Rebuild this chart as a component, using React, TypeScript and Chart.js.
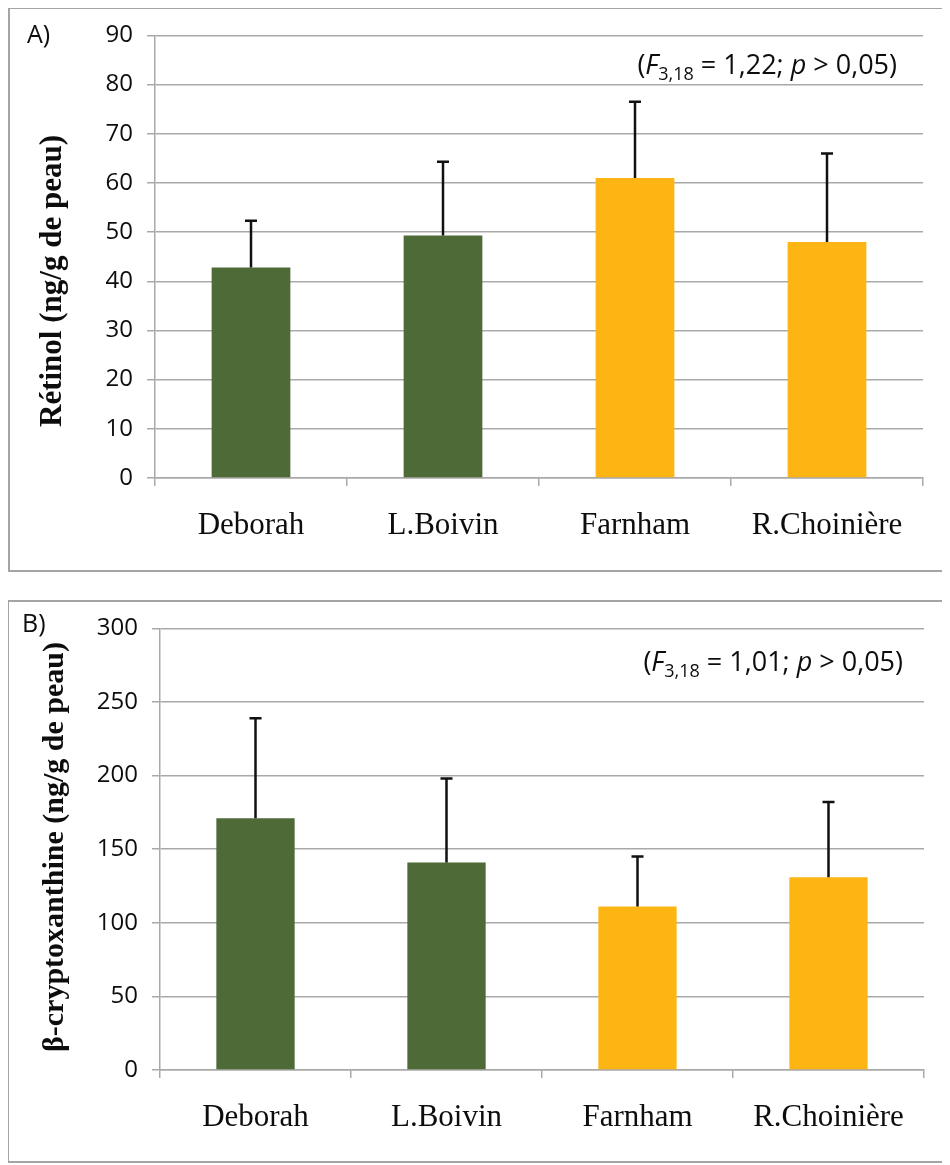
import React, { useEffect, useRef } from 'react';
import { Chart, registerables } from 'chart.js';

Chart.register(...registerables);

// ---------- Data ----------
const categories = ['Deborah', 'L.Boivin', 'Farnham', 'R.Choinière'];
const barColors = ['#4e6a37', '#4e6a37', '#fdb514', '#fdb514'];

const retinolMeans = [42.8, 49.3, 61.0, 48.0];
const retinolErrors = [9.5, 15.0, 15.5, 18.0];
const retinolMax = 90;
const retinolStep = 10;

const cryptoMeans = [171, 141, 111, 131];
const cryptoErrors = [68, 57, 34, 51];
const cryptoMax = 300;
const cryptoStep = 50;

type Seg = { t: string; it?: boolean; sub?: boolean };
const statA: Seg[] = [
  { t: '(' }, { t: 'F', it: true }, { t: '3,18', sub: true }, { t: ' = 1,22; ' }, { t: 'p', it: true }, { t: ' > 0,05)' },
];
const statB: Seg[] = [
  { t: '(' }, { t: 'F', it: true }, { t: '3,18', sub: true }, { t: ' = 1,01; ' }, { t: 'p', it: true }, { t: ' > 0,05)' },
];

const SANS = '"Open Sans", "Noto Sans", sans-serif';
const SERIF = '"Liberation Serif", "DejaVu Serif", serif';
const GRID = '#a9a9a9';

type PanelCfg = {
  label: string;
  yTitle: string;
  titleSize: number;
  means: number[];
  errors: number[];
  max: number;
  step: number;
  stat: Seg[];
  width: number;
  height: number;
  plotLeft: number;
  plotRight: number;
  plotTop: number;
  plotBottom: number;
  labelPos: [number, number];
  titlePos: [number, number];
  statRight: number;
  statY: number;
};

const errorBarPlugin = {
  id: 'errorBars',
  afterDatasetsDraw(chart: any, _args: any, opts: any) {
    const { ctx } = chart;
    const meta = chart.getDatasetMeta(0);
    const yScale = chart.scales.y;
    ctx.save();
    ctx.strokeStyle = '#111';
    ctx.lineWidth = 2.5;
    meta.data.forEach((el: any, i: number) => {
      const top = yScale.getPixelForValue(opts.means[i] + opts.errors[i]);
      ctx.beginPath();
      ctx.moveTo(el.x, el.y);
      ctx.lineTo(el.x, top);
      ctx.moveTo(el.x - 6, top);
      ctx.lineTo(el.x + 6, top);
      ctx.stroke();
    });
    ctx.restore();
  },
};

function drawRich(ctx: CanvasRenderingContext2D, segs: Seg[], right: number, y: number, size: number) {
  const fontFor = (s: Seg) => `${s.it ? 'italic ' : ''}${s.sub ? Math.round(size * 0.68) : size}px ${SANS}`;
  let total = 0;
  segs.forEach((s) => {
    ctx.font = fontFor(s);
    total += ctx.measureText(s.t).width;
  });
  let x = right - total;
  ctx.textBaseline = 'alphabetic';
  ctx.textAlign = 'left';
  segs.forEach((s) => {
    ctx.font = fontFor(s);
    ctx.fillText(s.t, x, s.sub ? y + size * 0.22 : y);
    x += ctx.measureText(s.t).width;
  });
}

const decorPlugin = {
  id: 'decor',
  beforeDraw(chart: any) {
    const { ctx, width, height } = chart;
    ctx.save();
    ctx.fillStyle = '#ffffff';
    ctx.fillRect(0, 0, width, height);
    ctx.restore();
  },
  afterDraw(chart: any, _args: any, o: any) {
    const { ctx, width, height } = chart;
    ctx.save();
    // frame
    ctx.strokeStyle = '#a4a4a4';
    ctx.lineWidth = 2;
    ctx.strokeRect(1, 1, width - 2, height - 2);
    ctx.fillStyle = '#0d0d0d';
    // panel label
    ctx.font = `25px ${SANS}`;
    ctx.textAlign = 'left';
    ctx.textBaseline = 'middle';
    ctx.fillText(o.label, o.labelPos[0], o.labelPos[1]);
    // y title
    ctx.save();
    ctx.translate(o.titlePos[0], o.titlePos[1]);
    ctx.rotate(-Math.PI / 2);
    ctx.font = `bold ${o.titleSize}px ${SERIF}`;
    ctx.textAlign = 'center';
    ctx.textBaseline = 'middle';
    ctx.fillText(o.yTitle, 0, 0);
    ctx.restore();
    // statistics
    drawRich(ctx, o.stat, o.statRight, o.statY, 27);
    ctx.restore();
  },
};

function Panel({ cfg, style }: { cfg: PanelCfg; style: React.CSSProperties }) {
  const ref = useRef<HTMLCanvasElement | null>(null);
  useEffect(() => {
    if (!ref.current) return;
    const chart = new Chart(ref.current, {
      type: 'bar',
      data: {
        labels: categories,
        datasets: [
          {
            data: cfg.means,
            backgroundColor: barColors,
            borderWidth: 0,
            barPercentage: 0.41,
            categoryPercentage: 1,
          },
        ],
      },
      options: {
        responsive: false,
        animation: false,
        devicePixelRatio: 1,
        layout: {
          padding: { top: cfg.plotTop, right: cfg.width - cfg.plotRight, bottom: 0, left: 0 },
        },
        plugins: {
          legend: { display: false },
          tooltip: { enabled: false },
          title: { display: false },
          errorBars: { means: cfg.means, errors: cfg.errors },
          decor: {
            label: cfg.label,
            yTitle: cfg.yTitle,
            titleSize: cfg.titleSize,
            stat: cfg.stat,
            labelPos: cfg.labelPos,
            titlePos: cfg.titlePos,
            statRight: cfg.statRight,
            statY: cfg.statY,
          },
        } as any,
        scales: {
          x: {
            afterFit: (s: any) => {
              s.height = cfg.height - cfg.plotBottom;
            },
            grid: {
              offset: true,
              drawOnChartArea: false,
              drawTicks: true,
              tickLength: 8,
              color: GRID,
              lineWidth: 1.5,
            },
            border: { display: true, color: GRID, width: 1.5 },
            ticks: {
              font: { family: SERIF, size: 31 },
              color: '#0d0d0d',
              padding: 21,
              maxRotation: 0,
            },
          },
          y: {
            min: 0,
            max: cfg.max,
            afterFit: (s: any) => {
              s.width = cfg.plotLeft;
            },
            ticks: {
              stepSize: cfg.step,
              font: { family: SANS, size: 24 },
              color: '#0d0d0d',
              padding: 14,
            },
            grid: {
              color: GRID,
              lineWidth: 1.5,
              drawTicks: true,
              tickLength: 8,
            },
            border: { display: true, color: GRID, width: 1.5 },
          },
        },
      },
      plugins: [errorBarPlugin, decorPlugin],
    });
    return () => chart.destroy();
  }, [cfg]);
  return (
    <canvas
      ref={ref}
      width={cfg.width}
      height={cfg.height}
      style={{ position: 'absolute', display: 'block', width: cfg.width, height: cfg.height, ...style }}
    />
  );
}

const panelA: PanelCfg = {
  label: 'A)',
  yTitle: 'Rétinol (ng/g de peau)',
  titleSize: 31,
  means: retinolMeans,
  errors: retinolErrors,
  max: retinolMax,
  step: retinolStep,
  stat: statA,
  width: 937,
  height: 565,
  plotLeft: 147,
  plotRight: 915,
  plotTop: 25,
  plotBottom: 471,
  labelPos: [19, 29],
  titlePos: [45, 274],
  statRight: 889,
  statY: 67,
};

const panelB: PanelCfg = {
  label: 'B)',
  yTitle: 'β-cryptoxanthine (ng/g de peau)',
  titleSize: 30,
  means: cryptoMeans,
  errors: cryptoErrors,
  max: cryptoMax,
  step: cryptoStep,
  stat: statB,
  width: 938,
  height: 563,
  plotLeft: 153,
  plotRight: 917,
  plotTop: 25,
  plotBottom: 470,
  labelPos: [15, 25],
  titlePos: [48, 247],
  statRight: 896,
  statY: 71,
};

export default function App() {
  return (
    <div style={{ position: 'relative', width: 942, height: 1157 }}>
      <Panel cfg={panelA} style={{ left: 0, top: -1 }} />
      <Panel cfg={panelB} style={{ left: -1, top: 592 }} />
    </div>
  );
}
